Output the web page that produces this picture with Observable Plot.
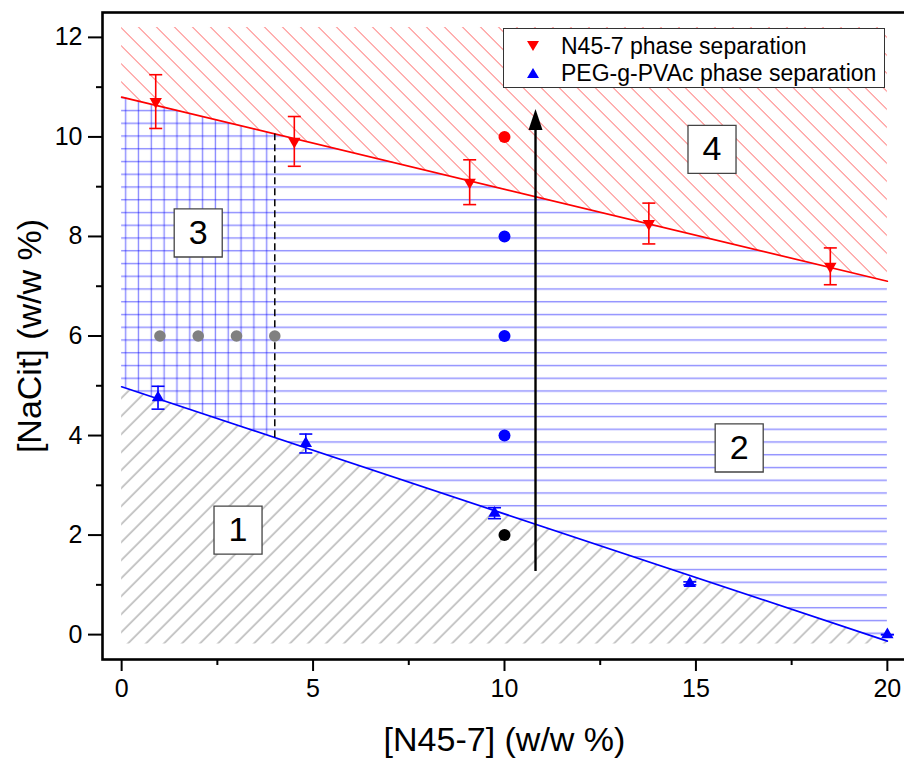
<!DOCTYPE html>
<html>
<head>
<meta charset="utf-8">
<script src="https://cdn.jsdelivr.net/npm/d3@7"></script>
<script src="https://cdn.jsdelivr.net/npm/@observablehq/plot@0.6"></script>
<style>
  body { margin: 0; background: #fff; }
  #wrap { position: relative; width: 904px; height: 758px; font-family: "Liberation Sans", Arial, sans-serif; overflow: hidden; }
  #legend { position: absolute; left: 503px; top: 28px; width: 382px; height: 60px; border: 1px solid #333; background: #fff; box-sizing: border-box; font-size: 23px; color: #000; }
  .row { position: absolute; left: 0; height: 26px; display: flex; align-items: center; white-space: nowrap; }
  .row svg { margin-left: 22px; margin-right: 21px; }
</style>
</head>
<body>
<div id="wrap">
  <div id="chart"></div>
  <div id="legend">
    <div class="row" style="top:4px"><svg width="14" height="12" viewBox="-7 -6 14 12"><path d="M-6,-5 L6,-5 L0,5 Z" fill="red"/></svg><span>N45-7 phase separation</span></div>
    <div class="row" style="top:31px"><svg width="14" height="12" viewBox="-7 -6 14 12"><path d="M-6,5 L6,5 L0,-5 Z" fill="blue"/></svg><span>PEG-g-PVAc phase separation</span></div>
  </div>
</div>
<script>
// ---------------- data ----------------
// N45-7 phase separation (red, down triangles)
const redX   = [0.89, 4.51, 9.09, 13.77, 18.51];
const redY   = [10.71, 9.91, 9.09, 8.26, 7.40];
const redErr = [0.54, 0.50, 0.45, 0.41, 0.37];
// PEG-g-PVAc phase separation (blue, up triangles)
const blueX   = [0.95, 4.81, 9.74, 14.84, 20.0];
const blueY   = [4.76, 3.84, 2.44, 1.03, 0.0];
const blueErr = [0.23, 0.19, 0.11, 0.03, 0.0];
// boundary lines (end points)
const redLineX  = [0, 20];
const redLineY  = [10.8, 7.1];
const blueLineX = [0, 20];
const blueLineY = [4.98, -0.13];
// region extents
const regionTop = 12.2;
const regionBottom = -0.19;
const region3Right = 4;        // dashed divider
// samples
const grayX = [1, 2, 3, 4];
const grayY = [6, 6, 6, 6];
const sampleX = 10;
const sampleY = [10, 8, 6, 4, 2];
const sampleRegion = ["4", "2", "2", "2", "1"];
// arrow
const arrowX = 10.81;
const arrowFrom = 1.27;
const arrowTo = 10.56;
// region labels
const labelText = ["1", "2", "3", "4"];
const labelX = [3.04, 16.13, 2.0, 15.42];
const labelY = [2.10, 3.75, 8.07, 9.75];
// ticks
const xTicks = [0, 5, 10, 15, 20];
const xMinor = [2.5, 7.5, 12.5, 17.5];
const yTicks = [0, 2, 4, 6, 8, 10, 12];
const yMinor = [1, 3, 5, 7, 9, 11];

// ---------------- helpers ----------------
const FONT = "'Liberation Sans', Arial, sans-serif";
const lineAt = (xs, ys) => x => ys[0] + (ys[1] - ys[0]) * (x - xs[0]) / (xs[1] - xs[0]);
const redAt = lineAt(redLineX, redLineY);
const blueAt = lineAt(blueLineX, blueLineY);

const redPts = redX.map((x, i) => ({x, y: redY[i], e: redErr[i]}));
const bluePts = blueX.map((x, i) => ({x, y: blueY[i], e: blueErr[i]}));
const grayPts = grayX.map((x, i) => ({x, y: grayY[i]}));
const samples = sampleY.map((y, i) => ({x: sampleX, y, r: sampleRegion[i]}));
const labels = labelText.map((t, i) => ({t, x: labelX[i], y: labelY[i]}));
const sampleColor = {"4": "red", "2": "blue", "1": "black"};

const capSym = {draw(ctx) { ctx.moveTo(-6.5, 0); ctx.lineTo(6.5, 0); }};
const headSym = {draw(ctx) { ctx.moveTo(0, 0); ctx.lineTo(-7, 21); ctx.lineTo(7, 21); ctx.closePath(); }};

const fullX = redLineX;               // regions span the whole boundary lines
const leftX = [redLineX[0], region3Right];

const errMarks = (pts, color) => [
  Plot.ruleX(pts, {x: "x", y1: d => d.y - d.e, y2: d => d.y + d.e, stroke: color, strokeWidth: 1.6}),
  Plot.dot(pts, {x: "x", y: d => d.y + d.e, symbol: capSym, stroke: color, fill: "none", strokeWidth: 1.6}),
  Plot.dot(pts, {x: "x", y: d => d.y - d.e, symbol: capSym, stroke: color, fill: "none", strokeWidth: 1.6})
];

const chart = Plot.plot({
  width: 904,
  height: 758,
  marginLeft: 102,
  marginRight: -2,
  marginTop: 12,
  marginBottom: 99,
  x: {domain: [-0.5, 20.5]},
  y: {domain: [-0.5, 12.5]},
  style: {fontFamily: FONT, fontSize: "24px", color: "black", background: "white"},
  marks: [
    // hatched regions
    Plot.areaY(fullX, {x: d => d, y1: d => redAt(d), y2: () => regionTop, fill: "url(#hatchRed)"}),
    Plot.areaY(fullX, {x: d => d, y1: () => regionBottom, y2: d => blueAt(d), fill: "url(#hatchGray)"}),
    Plot.areaY(fullX, {x: d => d, y1: d => blueAt(d), y2: d => redAt(d), fill: "url(#hLines)"}),
    Plot.areaY(leftX, {x: d => d, y1: d => blueAt(d), y2: d => redAt(d), fill: "url(#vLines)"}),
    // boundary lines
    Plot.line(redLineX.map((x, i) => ({x, y: redLineY[i]})), {x: "x", y: "y", stroke: "red", strokeWidth: 1.7}),
    Plot.line(blueLineX.map((x, i) => ({x, y: blueLineY[i]})), {x: "x", y: "y", stroke: "blue", strokeWidth: 1.7}),
    // dashed divider
    Plot.ruleX([region3Right], {x: d => d, y1: d => blueAt(d), y2: d => redAt(d), stroke: "black", strokeWidth: 1.5, strokeDasharray: "7,4"}),
    // error bars and points
    ...errMarks(redPts, "red"),
    ...errMarks(bluePts, "blue"),
    Plot.dot(redPts, {x: "x", y: "y", symbol: "triangle", rotate: 180, r: 4.6, fill: "red", stroke: "none"}),
    Plot.dot(bluePts, {x: "x", y: "y", symbol: "triangle", r: 4.6, fill: "blue", stroke: "none"}),
    // sample points
    Plot.dot(grayPts, {x: "x", y: "y", r: 5.8, fill: "#808080", stroke: "none"}),
    ...Object.keys(sampleColor).map(k =>
      Plot.dot(samples.filter(d => d.r === k), {x: "x", y: "y", r: 6, fill: sampleColor[k], stroke: "none"})),
    // arrow
    Plot.ruleX([arrowX], {x: d => d, y1: () => arrowFrom, y2: () => arrowTo - 0.3, stroke: "black", strokeWidth: 2.4}),
    Plot.dot([arrowX], {x: d => d, y: () => arrowTo, symbol: headSym, fill: "black", stroke: "none"}),
    // region labels
    Plot.dot(labels, {x: "x", y: "y", symbol: "square", r: 27.1, fill: "white", stroke: "#444", strokeWidth: 1.3}),
    Plot.text(labels, {x: "x", y: "y", text: "t", fontSize: 34, fontFamily: FONT, fill: "black", lineAnchor: "middle"}),
    // frame and axes
    Plot.frame({stroke: "black", strokeWidth: 2.6}),
    Plot.axisX(xTicks, {tickSize: 12, tickPadding: 8, strokeWidth: 2, fontSize: 25, fontFamily: FONT, tickFormat: "d", label: null}),
    Plot.axisX(xMinor, {tickSize: 6, text: null, strokeWidth: 2, label: null}),
    Plot.axisY(yTicks, {tickSize: 14, tickPadding: 6, strokeWidth: 2, fontSize: 25, fontFamily: FONT, tickFormat: "d", label: null}),
    Plot.axisY(yMinor, {tickSize: 6, text: null, strokeWidth: 2, label: null}),
    // axis titles
    Plot.text(["[N45-7] (w/w %)"], {frameAnchor: "bottom", dy: 81, text: d => d, fontSize: 34, fontFamily: FONT, fill: "black", textAnchor: "middle", lineAnchor: "middle"}),
    Plot.text(["[NaCit] (w/w %)"], {frameAnchor: "left", dx: -72, rotate: -90, text: d => d, fontSize: 34, fontFamily: FONT, fill: "black", textAnchor: "middle", lineAnchor: "middle"})
  ]
});

// hatch patterns (pixel space)
const defs = d3.select(chart).insert("defs", ":first-child");
function hatch(id, size, angle, offset, color, opacity, width) {
  const p = defs.append("pattern").attr("id", id).attr("patternUnits", "userSpaceOnUse")
    .attr("width", size).attr("height", size).attr("patternTransform", `rotate(${angle})`);
  p.append("line").attr("x1", offset).attr("x2", offset).attr("y1", -1).attr("y2", size + 1)
    .attr("stroke", color).attr("stroke-opacity", opacity).attr("stroke-width", width);
}
hatch("hatchRed", 12.73, -45, 2.4, "red", 0.5, 1);
hatch("hatchGray", 12.73, 45, 10.8, "#777", 0.8, 1);
hatch("vLines", 12.82, 0, 10.3, "blue", 0.45, 1.4);
hatch("hLines", 12.75, 90, 8.5, "blue", 0.45, 1.4);

document.getElementById("chart").appendChild(chart);
</script>
</body>
